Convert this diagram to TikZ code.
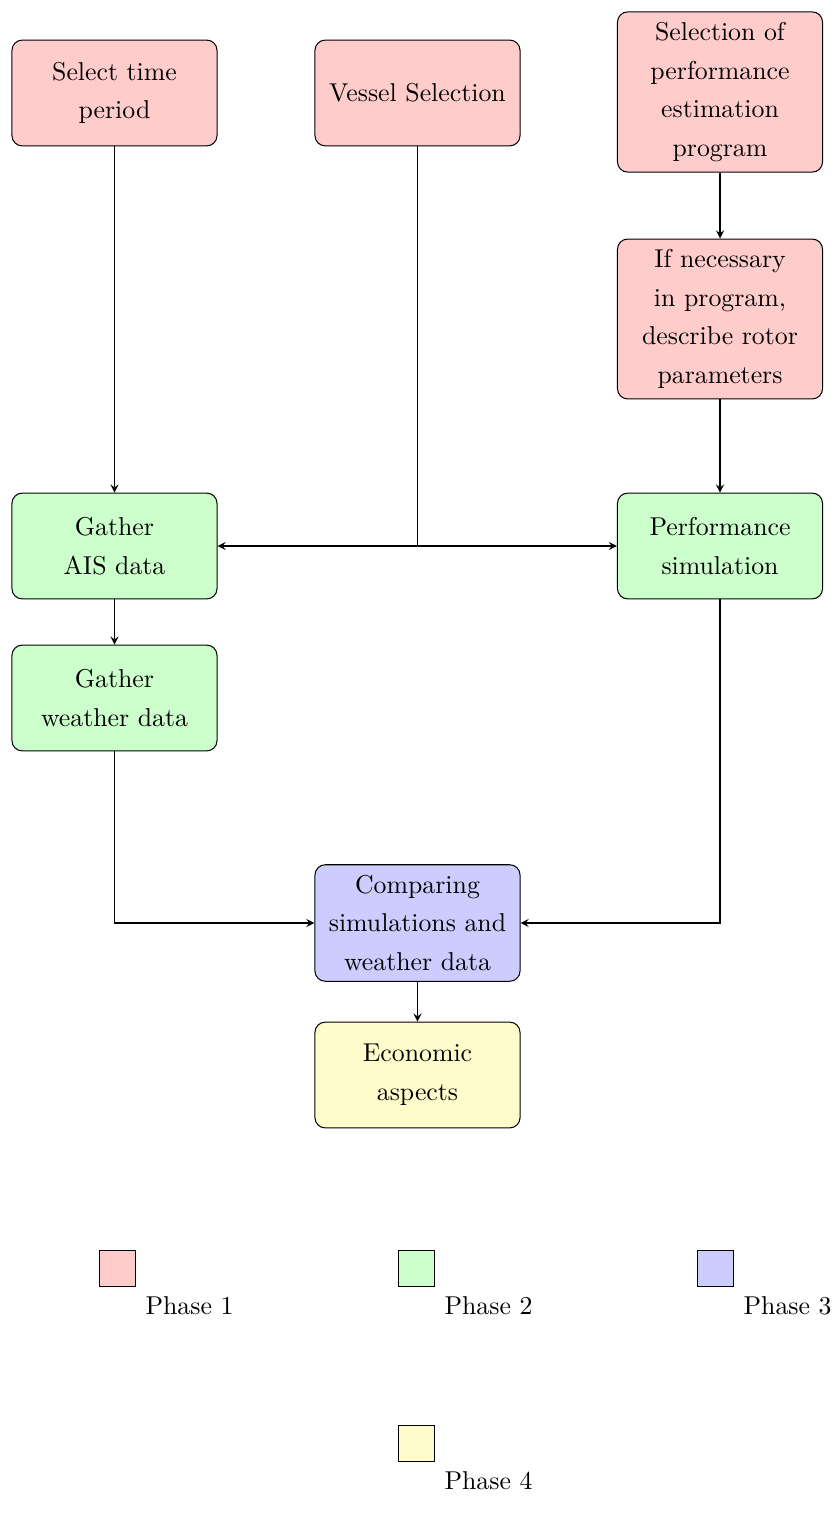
\documentclass[tikz,border=0pt]{standalone}
\usetikzlibrary{arrows}
\begin{document}
\begin{tikzpicture}[x=0.3876pt,y=-0.3876pt,
  box/.style={draw, rounded corners=4pt, align=center, text width=71pt,
    inner xsep=4.25pt, inner ysep=4pt, minimum width=79.5pt, minimum height=41pt,
    font=\fontsize{10}{15}\selectfont},
  p1/.style={box, fill=red!20},
  p2/.style={box, fill=green!20},
  p3/.style={box, fill=blue!20},
  p4/.style={box, fill=yellow!20},
  conn/.style={-stealth},
  legsq/.style={draw, minimum size=14.3pt, inner sep=0pt},
  leglab/.style={font=\fontsize{10}{12}\selectfont, below right}]
\useasboundingbox (0,0) rectangle (838,1524);
\node[p1] (A) at (114.5,93) {Select time\\period};
\node[p1] (B) at (417.5,93) {Vessel Selection};
\node[p1] (C) at (720,92) {Selection of\\performance\\estimation\\program};
\node[p1] (D) at (720,319) {If necessary\\in program,\\describe rotor\\parameters};
\node[p2] (E) at (114.5,546) {Gather\\AIS data};
\node[p2] (F) at (720,546) {Performance\\simulation};
\node[p2] (G) at (114.5,698) {Gather\\weather data};
\node[p3] (H) at (417.5,923) {Comparing\\simulations and\\weather data};
\node[p4] (I) at (417.5,1075) {Economic\\aspects};
\coordinate (J) at (417.5,546);
\draw[conn] (A) -- (E);
\draw[conn] (C) -- (D);
\draw[conn] (D) -- (F);
\draw (B) -- (J);
\draw[conn] (J) -- (E);
\draw[conn] (J) -- (F);
\draw[conn] (E) -- (G);
\draw[conn] (G.south) |- (H.west);
\draw[conn] (F.south) |- (H.east);
\draw[conn] (H) -- (I);
\node[legsq, fill=red!20] (L1) at (117.5,1268.5) {};
\node[leglab] (T1) at (L1.south east) {Phase 1};
\node[legsq, fill=green!20] (L2) at (416.5,1268.5) {};
\node[leglab] (T2) at (L2.south east) {Phase 2};
\node[legsq, fill=blue!20] (L3) at (715.5,1268.5) {};
\node[leglab] (T3) at (L3.south east) {Phase 3};
\node[legsq, fill=yellow!20] (L4) at (416.5,1443.5) {};
\node[leglab] (T4) at (L4.south east) {Phase 4};
\end{tikzpicture}
\end{document}
